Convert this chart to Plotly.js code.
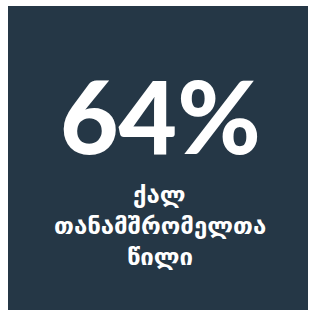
<!DOCTYPE html>
<html>
<head>
<meta charset="utf-8">
<script src="https://cdn.plot.ly/plotly-3.0.1.min.js"></script>
<style>html,body{margin:0;padding:0;background:#fff;}#chart{width:316px;height:318px;}</style>
</head>
<body>
<div id="chart"></div>
<script>
const values = [64];
const valueSuffix = ["%"];
const labelLines = ["ქალ", "თანამშრომელთა", "წილი"];

const bg = "#253746";
const lineY = [0.378, 0.275, 0.173];

const annotations = [{
  xref: "paper", yref: "paper", x: 0.508, y: 0.640,
  xanchor: "center", yanchor: "middle",
  text: values[0] + valueSuffix[0],
  showarrow: false,
  font: {family: "Lato", size: 101, color: "#ffffff", weight: 900}
}];
labelLines.forEach((t, i) => annotations.push({
  xref: "paper", yref: "paper", x: 0.505, y: lineY[i],
  xanchor: "center", yanchor: "middle",
  text: t, showarrow: false,
  font: {family: "DejaVu Sans", size: 24, color: "#ffffff", weight: 700}
}));

Plotly.newPlot("chart", [{x: [], y: [], type: "scatter"}], {
  width: 316, height: 318,
  margin: {l: 8, r: 8, t: 6, b: 8},
  paper_bgcolor: "#ffffff",
  plot_bgcolor: bg,
  xaxis: {visible: false, range: [0, 1], fixedrange: true},
  yaxis: {visible: false, range: [0, 1], fixedrange: true},
  showlegend: false,
  annotations: annotations
}, {displayModeBar: false, staticPlot: true});
</script>
</body>
</html>
